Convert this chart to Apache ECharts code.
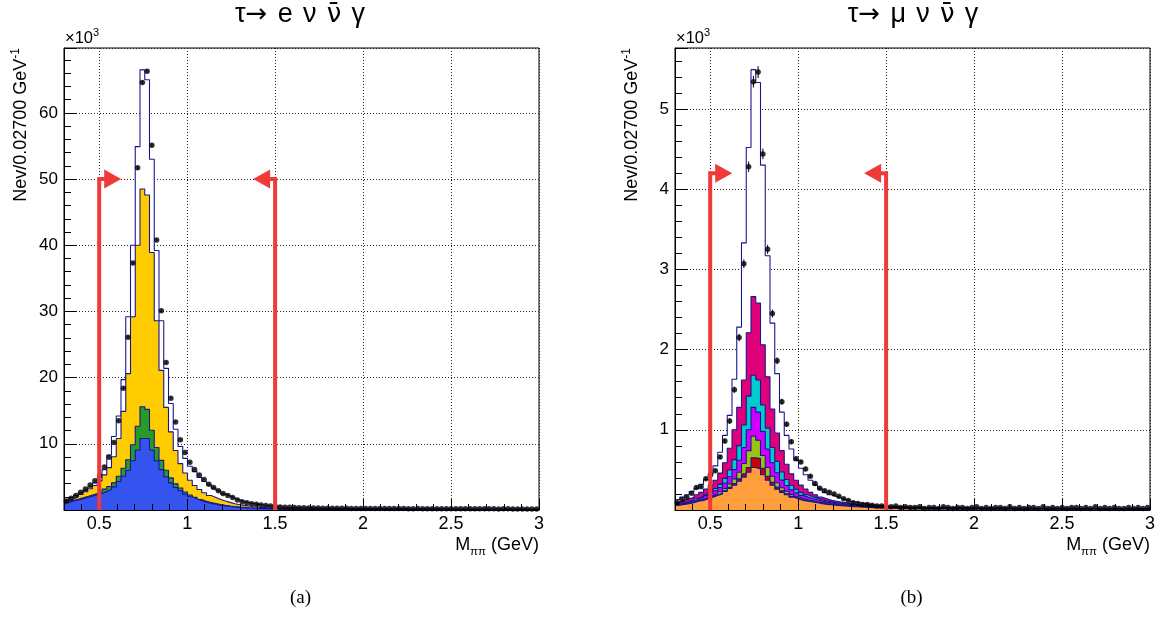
<!DOCTYPE html>
<html><head><meta charset="utf-8">
<script src="https://cdn.jsdelivr.net/npm/echarts@6/dist/echarts.min.js"></script>
<style>html,body{margin:0;padding:0;background:#fff}#c{width:1163px;height:619px}</style>
</head><body><div id="c"></div>
<script>
// ---------------- data (values in units of 10^3 events / bin) ----------------
const binLow = 0.3, binWidth = 0.027, nBins = 100;

// (a) tau -> e nu nubar gamma
const eTotalMC = [
 1.5, 1.85, 2.2, 2.6, 3.0, 3.5, 4.1, 4.9, 6.1, 8.3,
 11.1, 14.2, 19.7, 29.2, 40.0, 54.9, 66.5, 65.0, 53.0, 39.2,
 28.6, 21.4, 16.1, 12.2, 9.6, 7.8, 6.6, 5.8, 4.9, 4.3,
 3.8, 3.3, 2.9, 2.4, 2.1, 1.8, 1.5, 1.26, 1.1, 0.95,
 0.85, 0.75, 0.65, 0.57, 0.5, 0.45, 0.41, 0.38, 0.35, 0.33,
 0.31, 0.29, 0.28, 0.27, 0.26, 0.25, 0.24, 0.24, 0.23, 0.23,
 0.22, 0.22, 0.21, 0.21, 0.21, 0.2, 0.2, 0.2, 0.19, 0.19,
 0.19, 0.19, 0.18, 0.18, 0.18, 0.18, 0.17, 0.17, 0.17, 0.17,
 0.17, 0.16, 0.16, 0.16, 0.16, 0.16, 0.15, 0.15, 0.15, 0.15,
 0.15, 0.15, 0.14, 0.14, 0.14, 0.14, 0.14, 0.14, 0.13, 0.13];
const eData = [
 1.36, 1.76, 2.2, 2.67, 3.17, 3.78, 4.43, 5.2, 6.5, 7.96,
 10.2, 13.5, 18.4, 26.1, 37.3, 51.7, 64.6, 66.3, 55.1, 40.8,
 30.1, 22.3, 16.9, 13.3, 10.6, 8.7, 7.2, 6.1, 5.3, 4.6,
 3.9, 3.4, 2.9, 2.5, 2.2, 1.9, 1.5, 1.26, 1.1, 0.95,
 0.86, 0.76, 0.68, 0.6, 0.53, 0.47, 0.43, 0.4, 0.37, 0.35,
 0.33, 0.31, 0.3, 0.29, 0.28, 0.27, 0.26, 0.26, 0.25, 0.25,
 0.24, 0.24, 0.23, 0.24, 0.23, 0.22, 0.22, 0.23, 0.21, 0.21,
 0.22, 0.21, 0.2, 0.2, 0.21, 0.2, 0.19, 0.2, 0.19, 0.19,
 0.19, 0.18, 0.19, 0.18, 0.18, 0.17, 0.18, 0.18, 0.17, 0.17,
 0.17, 0.16, 0.17, 0.17, 0.16, 0.16, 0.16, 0.15, 0.16, 0.16];
const eBlue = [
 1.1, 1.36, 1.5, 1.7, 1.9, 2.1, 2.3, 2.5, 2.8, 3.1,
 3.5, 4.3, 5.1, 6.0, 7.45, 9.06, 10.8, 10.8, 9.06, 7.45,
 6.1, 5.0, 4.1, 3.4, 2.9, 2.4, 2.0, 1.7, 1.4, 1.16,
 1.0, 0.86, 0.72, 0.62, 0.53, 0.46, 0.4, 0.35, 0.3, 0.26,
 0.23, 0.2, 0.18, 0.16, 0.14, 0.12, 0.11, 0.1, 0.09, 0.08,
 0.07, 0.07, 0.06, 0.06, 0.05, 0.05, 0.05, 0.04, 0.04, 0.04,
 0.04, 0.03, 0.03, 0.03, 0.03, 0.03, 0.03, 0.03, 0.02, 0.02,
 0.02, 0.02, 0.02, 0.02, 0.02, 0.02, 0.02, 0.02, 0.02, 0.02,
 0.02, 0.02, 0.02, 0.02, 0.02, 0.01, 0.01, 0.01, 0.01, 0.01,
 0.01, 0.01, 0.01, 0.01, 0.01, 0.01, 0.01, 0.01, 0.01, 0.01];
const eGreen = [
 0.1, 0.1, 0.12, 0.13, 0.15, 0.17, 0.2, 0.25, 0.35, 0.45,
 0.6, 0.8, 1.2, 1.6, 2.4, 3.6, 4.8, 4.4, 3.0, 2.0,
 1.4, 1.0, 0.75, 0.55, 0.42, 0.33, 0.27, 0.22, 0.18, 0.15,
 0.13, 0.11, 0.09, 0.08, 0.07, 0.06, 0.05, 0.05, 0.04, 0.04,
 0.03, 0.03, 0.03, 0.02, 0.02, 0.02, 0.02, 0.02, 0.01, 0.01,
 0.01, 0.01, 0.01, 0.01, 0.01, 0.01, 0.01, 0.01, 0.01, 0.01,
 0.01, 0.01, 0.01, 0.01, 0.01, 0.01, 0.01, 0.01, 0.01, 0.01,
 0.005, 0.005, 0.005, 0.005, 0.005, 0.005, 0.005, 0.005, 0.005, 0.005,
 0.005, 0.005, 0.005, 0.005, 0.005, 0.005, 0.005, 0.005, 0.005, 0.005,
 0.005, 0.005, 0.005, 0.005, 0.005, 0.005, 0.005, 0.005, 0.005, 0.005];
const eYellow = [
 0.2, 0.24, 0.38, 0.52, 0.7, 0.93, 1.2, 1.65, 2.15, 2.85,
 3.95, 5.7, 8.6, 13.0, 19.35, 27.34, 32.9, 32.4, 26.84, 19.15,
 13.6, 9.5, 6.95, 5.05, 3.68, 2.87, 2.23, 1.78, 1.52, 1.29,
 1.07, 0.93, 0.79, 0.65, 0.55, 0.43, 0.35, 0.3, 0.26, 0.2,
 0.16, 0.13, 0.09, 0.07, 0.06, 0.05, 0.04, 0.035, 0.03, 0.025,
 0.02, 0.02, 0.02, 0.02, 0.02, 0.02, 0.02, 0.02, 0.02, 0.02,
 0.015, 0.015, 0.015, 0.015, 0.015, 0.015, 0.015, 0.015, 0.015, 0.015,
 0.01, 0.01, 0.01, 0.01, 0.01, 0.01, 0.01, 0.01, 0.01, 0.01,
 0.01, 0.01, 0.01, 0.01, 0.01, 0.01, 0.01, 0.01, 0.01, 0.01,
 0.01, 0.01, 0.01, 0.01, 0.01, 0.01, 0.01, 0.01, 0.01, 0.01];

// (b) tau -> mu nu nubar gamma
const muTotalMC = [
 0.13, 0.16, 0.19, 0.23, 0.27, 0.32, 0.38, 0.45, 0.55, 0.72,
 0.93, 1.18, 1.63, 2.28, 3.33, 4.52, 5.49, 5.33, 4.30, 3.17,
 2.33, 1.70, 1.22, 0.93, 0.76, 0.62, 0.52, 0.44, 0.37, 0.31,
 0.26, 0.22, 0.19, 0.17, 0.15, 0.13, 0.11, 0.10, 0.09, 0.08,
 0.07, 0.065, 0.06, 0.055, 0.05, 0.046, 0.043, 0.04, 0.038, 0.036,
 0.034, 0.033, 0.032, 0.031, 0.03, 0.029, 0.028, 0.028, 0.027, 0.027,
 0.026, 0.026, 0.025, 0.025, 0.025, 0.024, 0.024, 0.024, 0.023, 0.023,
 0.023, 0.022, 0.022, 0.022, 0.022, 0.021, 0.021, 0.021, 0.021, 0.02,
 0.02, 0.02, 0.02, 0.02, 0.019, 0.019, 0.019, 0.019, 0.019, 0.018,
 0.018, 0.018, 0.018, 0.018, 0.017, 0.017, 0.017, 0.017, 0.017, 0.016];
const muData = [
 0.09, 0.13, 0.16, 0.21, 0.28, 0.29, 0.39, 0.44, 0.49, 0.66,
 0.86, 1.11, 1.50, 2.15, 3.07, 4.28, 5.34, 5.46, 4.44, 3.25,
 2.45, 1.86, 1.35, 1.07, 0.85, 0.64, 0.60, 0.51, 0.42, 0.33,
 0.27, 0.24, 0.22, 0.20, 0.17, 0.14, 0.12, 0.09, 0.08, 0.07,
 0.07, 0.06, 0.05, 0.05, 0.04, 0.04, 0.05, 0.03, 0.04, 0.03,
 0.03, 0.04, 0.02, 0.03, 0.03, 0.02, 0.04, 0.03, 0.02, 0.03,
 0.03, 0.02, 0.03, 0.04, 0.02, 0.03, 0.02, 0.03, 0.03, 0.02,
 0.04, 0.02, 0.03, 0.02, 0.03, 0.03, 0.02, 0.04, 0.02, 0.03,
 0.02, 0.03, 0.02, 0.03, 0.03, 0.02, 0.03, 0.02, 0.04, 0.02,
 0.03, 0.02, 0.03, 0.02, 0.02, 0.03, 0.02, 0.03, 0.02, 0.03];
const muOrange = [
 0.06, 0.07, 0.08, 0.09, 0.11, 0.12, 0.14, 0.16, 0.18, 0.20,
 0.23, 0.27, 0.31, 0.36, 0.41, 0.47, 0.53, 0.51, 0.44, 0.37,
 0.31, 0.26, 0.22, 0.19, 0.16, 0.14, 0.12, 0.11, 0.10, 0.09,
 0.08, 0.07, 0.065, 0.06, 0.055, 0.05, 0.045, 0.04, 0.037, 0.034,
 0.031, 0.029, 0.027, 0.025, 0.023, 0.021, 0.02, 0.019, 0.018, 0.017,
 0.016, 0.015, 0.015, 0.014, 0.014, 0.013, 0.013, 0.012, 0.012, 0.012,
 0.011, 0.011, 0.011, 0.011, 0.011, 0.011, 0.011, 0.011, 0.011, 0.011,
 0.01, 0.01, 0.01, 0.01, 0.01, 0.01, 0.01, 0.01, 0.01, 0.01,
 0.009, 0.009, 0.009, 0.009, 0.009, 0.009, 0.009, 0.009, 0.009, 0.009,
 0.008, 0.008, 0.008, 0.008, 0.008, 0.008, 0.008, 0.008, 0.008, 0.008];
const muRed = [
 0.002, 0.002, 0.002, 0.002, 0.003, 0.003, 0.004, 0.005, 0.006, 0.008,
 0.010, 0.014, 0.020, 0.028, 0.040, 0.060, 0.120, 0.130, 0.080, 0.050,
 0.035, 0.025, 0.018, 0.013, 0.010, 0.008, 0.007, 0.006, 0.005, 0.004,
 0.004, 0.003, 0.003, 0.003, 0.002, 0.002, 0.002, 0.002, 0.002, 0.001,
 0.001, 0.001, 0.001, 0.001, 0.001, 0.001, 0.001, 0.001, 0.001, 0.001,
 0.001, 0.001, 0.001, 0.001, 0.001, 0.001, 0.001, 0.001, 0.001, 0.001,
 0.001, 0.001, 0.001, 0.001, 0.001, 0.001, 0.001, 0.001, 0.001, 0.001,
 0.001, 0.001, 0.001, 0.001, 0.001, 0.001, 0.001, 0.001, 0.001, 0.001,
 0.001, 0.001, 0.001, 0.001, 0.001, 0.001, 0.001, 0.001, 0.001, 0.001,
 0.001, 0.001, 0.001, 0.001, 0.001, 0.001, 0.001, 0.001, 0.001, 0.001];
const muLime = [
 0.004, 0.004, 0.005, 0.005, 0.006, 0.008, 0.009, 0.011, 0.014, 0.020,
 0.028, 0.040, 0.058, 0.082, 0.130, 0.210, 0.270, 0.230, 0.160, 0.110,
 0.075, 0.055, 0.040, 0.030, 0.023, 0.018, 0.015, 0.012, 0.010, 0.009,
 0.008, 0.007, 0.006, 0.005, 0.005, 0.004, 0.004, 0.003, 0.003, 0.003,
 0.002, 0.002, 0.002, 0.002, 0.002, 0.002, 0.002, 0.002, 0.002, 0.002,
 0.002, 0.002, 0.002, 0.002, 0.002, 0.002, 0.002, 0.002, 0.002, 0.002,
 0.001, 0.001, 0.001, 0.001, 0.001, 0.001, 0.001, 0.001, 0.001, 0.001,
 0.001, 0.001, 0.001, 0.001, 0.001, 0.001, 0.001, 0.001, 0.001, 0.001,
 0.001, 0.001, 0.001, 0.001, 0.001, 0.001, 0.001, 0.001, 0.001, 0.001,
 0.001, 0.001, 0.001, 0.001, 0.001, 0.001, 0.001, 0.001, 0.001, 0.001];
const muViolet = [
 0.010, 0.011, 0.013, 0.015, 0.017, 0.022, 0.026, 0.032, 0.040, 0.052,
 0.068, 0.090, 0.115, 0.150, 0.200, 0.260, 0.360, 0.350, 0.300, 0.230,
 0.170, 0.125, 0.095, 0.072, 0.058, 0.047, 0.040, 0.033, 0.028, 0.024,
 0.020, 0.018, 0.015, 0.013, 0.012, 0.011, 0.010, 0.009, 0.008, 0.007,
 0.007, 0.006, 0.006, 0.005, 0.005, 0.005, 0.004, 0.004, 0.004, 0.004,
 0.003, 0.003, 0.003, 0.003, 0.003, 0.003, 0.003, 0.003, 0.003, 0.003,
 0.003, 0.003, 0.003, 0.003, 0.003, 0.003, 0.003, 0.003, 0.003, 0.003,
 0.002, 0.002, 0.002, 0.002, 0.002, 0.002, 0.002, 0.002, 0.002, 0.002,
 0.002, 0.002, 0.002, 0.002, 0.002, 0.002, 0.002, 0.002, 0.002, 0.002,
 0.002, 0.002, 0.002, 0.002, 0.002, 0.002, 0.002, 0.002, 0.002, 0.002];
const muCyan = [
 0.006, 0.007, 0.008, 0.010, 0.011, 0.014, 0.017, 0.021, 0.028, 0.040,
 0.058, 0.085, 0.125, 0.180, 0.280, 0.420, 0.400, 0.400, 0.330, 0.260,
 0.190, 0.140, 0.100, 0.075, 0.057, 0.045, 0.037, 0.030, 0.025, 0.021,
 0.017, 0.015, 0.012, 0.011, 0.010, 0.009, 0.008, 0.007, 0.006, 0.006,
 0.005, 0.005, 0.004, 0.004, 0.004, 0.003, 0.003, 0.003, 0.003, 0.003,
 0.002, 0.002, 0.002, 0.002, 0.002, 0.002, 0.002, 0.002, 0.002, 0.002,
 0.002, 0.002, 0.002, 0.002, 0.002, 0.002, 0.002, 0.002, 0.002, 0.002,
 0.001, 0.001, 0.001, 0.001, 0.001, 0.001, 0.001, 0.001, 0.001, 0.001,
 0.001, 0.001, 0.001, 0.001, 0.001, 0.001, 0.001, 0.001, 0.001, 0.001,
 0.001, 0.001, 0.001, 0.001, 0.001, 0.001, 0.001, 0.001, 0.001, 0.001];
const muMagenta = [
 0.018, 0.026, 0.032, 0.038, 0.043, 0.053, 0.064, 0.081, 0.102, 0.140,
 0.196, 0.271, 0.372, 0.480, 0.560, 0.790, 0.980, 0.960, 0.750, 0.640,
 0.480, 0.355, 0.267, 0.190, 0.142, 0.112, 0.091, 0.069, 0.052, 0.042,
 0.031, 0.027, 0.019, 0.018, 0.016, 0.014, 0.011, 0.009, 0.009, 0.009,
 0.008, 0.007, 0.007, 0.006, 0.006, 0.005, 0.005, 0.005, 0.004, 0.004,
 0.004, 0.004, 0.004, 0.004, 0.004, 0.004, 0.004, 0.004, 0.004, 0.004,
 0.003, 0.003, 0.003, 0.003, 0.003, 0.003, 0.003, 0.003, 0.003, 0.003,
 0.003, 0.003, 0.003, 0.003, 0.003, 0.003, 0.003, 0.003, 0.003, 0.003,
 0.002, 0.002, 0.002, 0.002, 0.002, 0.002, 0.002, 0.002, 0.002, 0.002,
 0.002, 0.002, 0.002, 0.002, 0.002, 0.002, 0.002, 0.002, 0.002, 0.002];

// selection cuts (GeV) and arrow heights (10^3)
const cutValues = [0.5, 1.5];
const cutDirections = [1, -1];
const eArrowHeight = 50;
const muArrowHeight = 4.2;

const panelLeptons = ['e', '\u03BC'];
const panelCaptions = ['(a)', '(b)'];
const yAxisMax = [69.8, 5.76];

// ---------------- helpers ----------------
const outline = '#16168f';
function edgeData(vals) {
  const d = [];
  for (let i = 0; i < vals.length; i++) d.push([binLow + binWidth * i, vals[i]]);
  d.push([binLow + binWidth * vals.length, vals[vals.length - 1]]);
  return d;
}
function centerData(vals) { return vals.map((v, i) => [binLow + binWidth * (i + 0.5), v]); }
function cumulate(layers) {
  const out = []; let acc = new Array(nBins).fill(0);
  layers.forEach(l => { acc = acc.map((a, i) => a + l[i]); out.push(acc.slice()); });
  return out;
}
function histSeries(p, vals, fill, z) {
  return { type: 'line', xAxisIndex: 2 * p + 1, yAxisIndex: 2 * p + 1, step: 'end', data: edgeData(vals),
    symbol: 'none', silent: true, z: z, lineStyle: { color: outline, width: 1.1 },
    areaStyle: { color: fill, opacity: 1 } };
}

const grids = [
  { left: 64, top: 48, width: 475, height: 462 },
  { left: 675, top: 48, width: 475, height: 462 }
];

const xAxes = [], yAxes = [], series = [], graphics = [];
const red = '#f03a3a';
const sans = 'Liberation Sans';

[0, 1].forEach(p => {
  xAxes.push({ gridIndex: p, type: 'value', min: 0.3, max: 3, splitNumber: 5, position: 'top', z: 0,
    axisLine: { show: false }, axisTick: { show: false }, axisLabel: { show: false },
    splitLine: { show: true, lineStyle: { color: '#222', type: [1, 2], width: 1 } } });
  xAxes.push({ gridIndex: p, type: 'value', min: 0.3, max: 3, splitNumber: 5, position: 'bottom', z: 9,
    axisLine: { show: true, onZero: false, lineStyle: { color: '#000', width: 1 } },
    axisTick: { show: true, inside: true, length: 11, lineStyle: { color: '#000', width: 1 } },
    minorTick: { show: true, splitNumber: 5, length: 6, lineStyle: { color: '#000', width: 1 } },
    axisLabel: { showMinLabel: false, color: '#000', fontSize: 18, fontFamily: sans, margin: 5,
      formatter: v => (Math.abs(v - 0.3) < 1e-6 ? '' : String(+v.toFixed(2))) },
    splitLine: { show: false } });
  yAxes.push({ gridIndex: p, type: 'value', min: 0, max: yAxisMax[p], splitNumber: p === 0 ? 7 : 6, position: 'right', z: 0,
    axisLine: { show: false }, axisTick: { show: false }, axisLabel: { show: false },
    splitLine: { show: true, lineStyle: { color: '#222', type: [1, 2], width: 1 } } });
  yAxes.push({ gridIndex: p, type: 'value', min: 0, max: yAxisMax[p], splitNumber: p === 0 ? 7 : 6, position: 'left', z: 9,
    axisLine: { show: true, onZero: false, lineStyle: { color: '#000', width: 1 } },
    axisTick: { show: true, inside: true, length: 13, lineStyle: { color: '#000', width: 1 } },
    minorTick: { show: true, splitNumber: 5, length: 7, lineStyle: { color: '#000', width: 1 } },
    axisLabel: { showMinLabel: false, showMaxLabel: false, color: '#000', fontSize: 17, fontFamily: sans, margin: 6,
      formatter: v => (v === 0 || Math.abs(v - yAxisMax[p]) < 1e-6 ? '' : String(v)) },
    splitLine: { show: false } });
});

// ---- panel (a) histograms
series.push(histSeries(0, eTotalMC, '#ffffff', 1));
const eStack = cumulate([eBlue, eGreen, eYellow]);
const eColors = ['#3553ee', '#279a27', '#ffcc00'];
for (let k = eStack.length - 1; k >= 0; k--) series.push(histSeries(0, eStack[k], eColors[k], 2 + (eStack.length - 1 - k)));
// ---- panel (b) histograms
series.push(histSeries(1, muTotalMC, '#ffffff', 1));
const muStack = cumulate([muOrange, muRed, muLime, muViolet, muCyan, muMagenta]);
const muColors = ['#ff9e3d', '#d00000', '#99c414', '#cc00ff', '#00cccc', '#e0007a'];
for (let k = muStack.length - 1; k >= 0; k--) series.push(histSeries(1, muStack[k], muColors[k], 2 + (muStack.length - 1 - k)));

// ---- data points with statistical error bars
[[eData, 0], [muData, 1]].forEach(([vals, p]) => {
  series.push({ type: 'custom', xAxisIndex: 2 * p + 1, yAxisIndex: 2 * p + 1, z: 10, silent: true,
    encode: { x: 0, y: 1 },
    data: centerData(vals).map(([x, v]) => [x, v, Math.sqrt(v * 1000) / 1000]),
    renderItem: (params, api) => {
      const x = api.value(0), v = api.value(1), e = api.value(2);
      const a = api.coord([x, v - e]), b = api.coord([x, v + e]);
      return { type: 'line', shape: { x1: a[0], y1: a[1], x2: b[0], y2: b[1] }, style: { stroke: '#000', lineWidth: 1 } };
    } });
  series.push({ type: 'scatter', xAxisIndex: 2 * p + 1, yAxisIndex: 2 * p + 1, z: 11, silent: true,
    data: centerData(vals), symbol: 'circle', symbolSize: 5.5, itemStyle: { color: '#000' } });
});

// ---- cut arrows
[[eArrowHeight, 0], [muArrowHeight, 1]].forEach(([h, p]) => {
  series.push({ type: 'custom', xAxisIndex: 2 * p + 1, yAxisIndex: 2 * p + 1, z: 12, silent: true,
    encode: { x: 0, y: 1 },
    data: cutValues.map((c, i) => [c, h, cutDirections[i]]),
    renderItem: (params, api) => {
      const x = api.value(0), top = api.value(1), dir = api.value(2);
      const base = api.coord([x, 0]), t = api.coord([x, top]);
      const tipX = t[0] + dir * 22, headLen = 17, half = 9.5, neck = tipX - dir * headLen;
      return { type: 'group', children: [
        { type: 'polyline', shape: { points: [[base[0], base[1]], [t[0], t[1]], [neck + dir * 1, t[1]]] },
          style: { stroke: red, lineWidth: 4, fill: null, lineJoin: 'miter' } },
        { type: 'polygon', shape: { points: [[tipX, t[1]], [neck, t[1] - half], [neck, t[1] + half]] },
          style: { fill: red } } ] };
    } });
});

// ---- texts
const titleX = [300, 913];
[0, 1].forEach(p => {
  const g = grids[p];
  graphics.push({ type: 'text', x: titleX[p], y: 15, style: {
    text: '{a|\u03C4}{b|\u2192}{w| }{a|' + panelLeptons[p] + '}{w| }{a|\u03BD}{w| }{b|\u03BD\u0304}{w| }{a|\u03B3}',
    fill: '#000', align: 'center', verticalAlign: 'middle',
    rich: { a: { fontSize: 27, fontFamily: sans, lineHeight: 32 },
            b: { fontSize: 26, fontFamily: 'DejaVu Sans', lineHeight: 32 },
            w: { fontSize: 37, fontFamily: sans, lineHeight: 32 } } } });
  graphics.push({ type: 'text', x: g.left + 1, y: 37, style: { text: '{a|\u00D710}{s|3}', fill: '#000',
    align: 'left', verticalAlign: 'middle',
    rich: { a: { fontSize: 16.5, fontFamily: sans, lineHeight: 20, verticalAlign: 'bottom' },
            s: { fontSize: 11, fontFamily: sans, lineHeight: 11, verticalAlign: 'top' } } } });
  graphics.push({ type: 'text', x: g.left - 44, y: g.top, rotation: Math.PI / 2,
    style: { text: '{a|Nev/0.02700 GeV}{s|-1}', fill: '#000', align: 'right', verticalAlign: 'middle',
      rich: { a: { fontSize: 18, fontFamily: sans, lineHeight: 21, verticalAlign: 'bottom' },
              s: { fontSize: 12, fontFamily: sans, lineHeight: 11, verticalAlign: 'top' } } } });
  graphics.push({ type: 'text', x: g.left + g.width, y: 547,
    style: { text: '{a|M}{s|\u03C0\u03C0}{a| (GeV)}', fill: '#000', align: 'right', verticalAlign: 'middle',
      rich: { a: { fontSize: 18, fontFamily: sans, lineHeight: 22, verticalAlign: 'top' },
              s: { fontSize: 11.5, fontFamily: sans, lineHeight: 11, verticalAlign: 'bottom' } } } });
  graphics.push({ type: 'text', x: g.left + g.width / 2 - 1, y: 598, style: { text: panelCaptions[p], fontSize: 19,
    fontFamily: 'Liberation Serif', fill: '#000', align: 'center', verticalAlign: 'middle' } });
});

const chart = echarts.init(document.getElementById('c'), null, { renderer: 'canvas' });
chart.setOption({
  animation: false, backgroundColor: '#fff',
  grid: grids.map(g => Object.assign({ show: true, borderColor: '#000', borderWidth: 1, backgroundColor: 'transparent', containLabel: false }, g)),
  xAxis: xAxes, yAxis: yAxes, series: series, graphic: graphics
});
</script></body></html>
